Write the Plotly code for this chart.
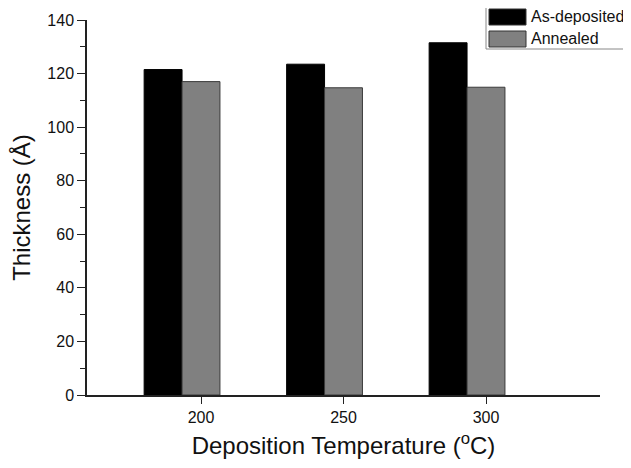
import plotly.graph_objects as go

temperatures = [200, 250, 300]
as_deposited = [121.5, 123.5, 131.5]
annealed = [117.0, 114.7, 114.9]
series_names = ["As-deposited", "Annealed"]
series_colors = ["#000000", "#808080"]
y_ticks = [0, 20, 40, 60, 80, 100, 120, 140]

bar_w = 13.3
font_family = "Liberation Sans, Arial, sans-serif"

# the page body adds an 8 px offset; target plot area on screen: x 87..600, y 20..395
OFF = 8
W, H = 631, 468
ML, MT = 87 - OFF, 20 - OFF
MR = W - (600 - OFF)
MB = H - (395 - OFF)
PW, PH = W - ML - MR, H - MT - MB


def px_x(p):
    return (p - OFF - ML) / PW


def px_y(p):
    return (H - MB - (p - OFF)) / PH


fig = go.Figure()
fig.add_trace(go.Bar(
    x=temperatures, y=as_deposited, name=series_names[0],
    width=bar_w, offset=-1.5 * bar_w,
    marker=dict(color=series_colors[0], line=dict(color="#000000", width=1)),
))
fig.add_trace(go.Bar(
    x=temperatures, y=annealed, name=series_names[1],
    width=bar_w, offset=-0.5 * bar_w,
    marker=dict(color=series_colors[1], line=dict(color="#3a3a3a", width=1)),
))

# legend drawn by hand (large rectangular swatches as in the reference)
shapes = [
    dict(type="rect", xref="paper", yref="paper",
         x0=px_x(486), x1=px_x(630), y0=px_y(49), y1=px_y(7),
         line=dict(color="#888888", width=1), fillcolor="white", layer="above"),
]
annotations = []
swatch_rows = [(9, 25), (31, 47)]
for (top, bot), name, col in zip(swatch_rows, series_names, series_colors):
    shapes.append(dict(type="rect", xref="paper", yref="paper",
                       x0=px_x(489), x1=px_x(526), y0=px_y(bot), y1=px_y(top),
                       line=dict(color="#333333", width=1), fillcolor=col, layer="above"))
    annotations.append(dict(xref="paper", yref="paper", x=px_x(529), y=px_y((top + bot) / 2),
                            xanchor="left", yanchor="middle", showarrow=False,
                            text=name, font=dict(size=16, family=font_family, color="#111111")))

fig.update_layout(
    width=W, height=H,
    margin=dict(l=ML, r=MR, t=MT, b=MB, autoexpand=False),
    paper_bgcolor="white", plot_bgcolor="white",
    barmode="overlay",
    font=dict(family=font_family, color="#111111"),
    showlegend=False,
    shapes=shapes,
    annotations=annotations,
)

fig.update_xaxes(
    range=[160, 340], automargin=False,
    tickmode="array", tickvals=temperatures, ticktext=[str(t) for t in temperatures],
    ticks="outside", ticklen=7, tickwidth=1, tickcolor="#222222",
    showline=True, linecolor="#222222", linewidth=1.5,
    showgrid=False, zeroline=False,
    tickfont=dict(size=16, family=font_family),
    title=dict(text="Deposition Temperature (<sup>o</sup>C)", font=dict(size=24, family=font_family), standoff=12),
)

fig.update_yaxes(
    range=[0, 140], automargin=False,
    tickmode="array", tickvals=y_ticks, ticktext=[str(v) for v in y_ticks],
    ticks="outside", ticklen=8, tickwidth=1, tickcolor="#222222",
    minor=dict(dtick=10, ticks="outside", ticklen=5, tickcolor="#222222", tickwidth=1, showgrid=False),
    showline=True, linecolor="#222222", linewidth=1.5,
    showgrid=False, zeroline=False,
    tickfont=dict(size=16, family=font_family),
    title=dict(text="Thickness (Å)", font=dict(size=24, family=font_family), standoff=10),
)

fig.write_html("out.html")
